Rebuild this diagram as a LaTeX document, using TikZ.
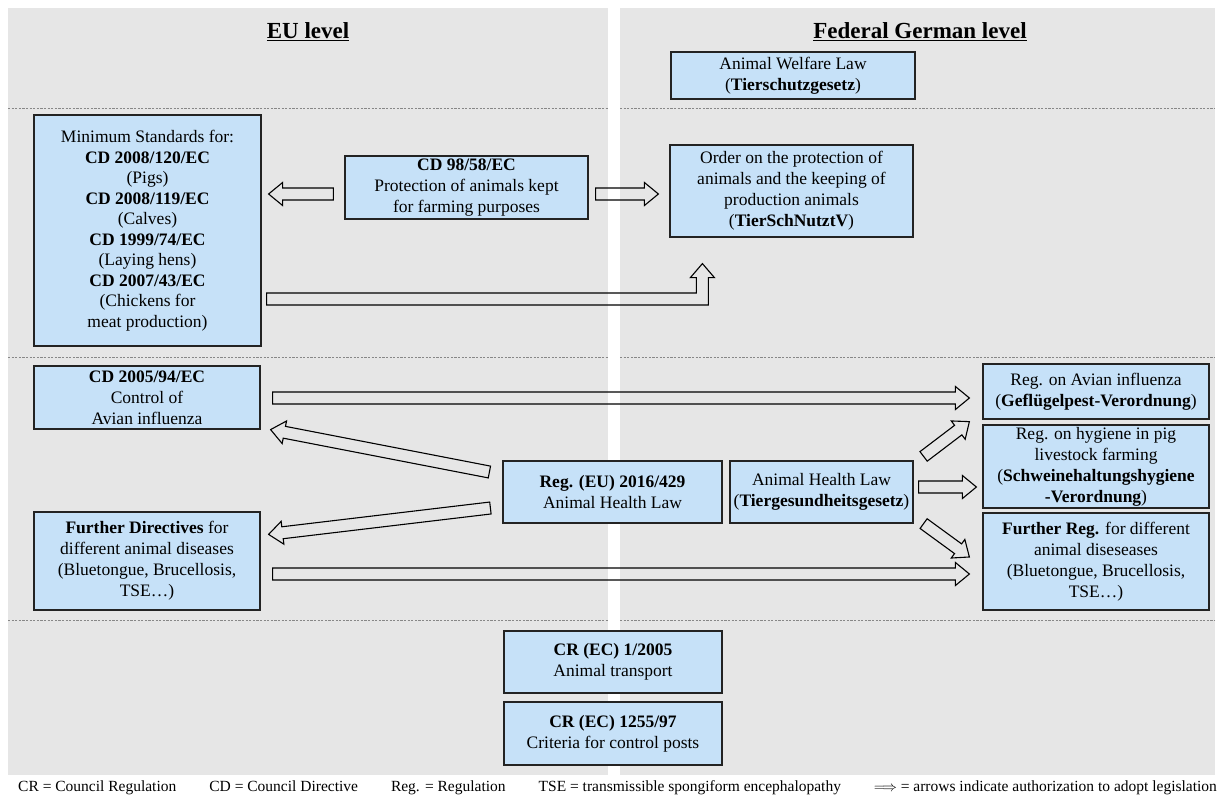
\documentclass[tikz,border=0pt]{standalone}
\usepackage{fontspec}
\setmainfont{Liberation Serif}
\usetikzlibrary{calc}

\definecolor{panelgray}{RGB}{230,230,230}
\definecolor{boxblue}{RGB}{198,225,248}
\definecolor{sepgray}{RGB}{135,135,135}
\definecolor{edgegray}{RGB}{35,35,35}

\tikzset{
  lawbox/.style={draw=edgegray, line width=1.2pt, fill=boxblue, align=center,
    inner sep=2pt, font=\fontsize{17.5}{21}\selectfont},
  panel/.style={fill=panelgray, draw=none},
  sepline/.style={draw=sepgray, line width=0.9pt, dash pattern=on 2.2pt off 1.4pt},
  hollow/.style={draw=black, line width=1.1pt, line join=miter, fill=none},
  heading/.style={font=\fontsize{23}{26}\selectfont\bfseries},
  legend/.style={font=\fontsize{15.5}{18}\selectfont, inner sep=0pt, anchor=base west},
}

% block arrow (hollow outline) from coordinate #1 to coordinate #2
\newcommand\hollowarrow[2]{%
  \path let \p1=(#1), \p2=(#2) in \pgfextra{%
    \pgfmathsetmacro\haang{atan2(\y2-\y1,\x2-\x1)}%
    \pgfmathsetmacro\halen{veclen(\x2-\x1,\y2-\y1)}%
    \pgfmathsetmacro\hab{\halen-14}%
    \xdef\haang{\haang}\xdef\halen{\halen}\xdef\hab{\hab}%
    \xdef\hax{\x1}\xdef\hay{\y1}};
  \begin{scope}[shift={(\hax,\hay)}, rotate=\haang, x=1pt, y=1pt]
    \draw[hollow] (0,-6) -- (\hab,-6) -- (\hab,-11.5) -- (\halen,0)
      -- (\hab,11.5) -- (\hab,6) -- (0,6) -- cycle;
  \end{scope}}

\begin{document}
\begin{tikzpicture}[x=1pt, y=-1pt]
  \useasboundingbox (0,0) rectangle (1220,800);
  \fill[white] (0,0) rectangle (1220,800);

  % two columns
  \fill[panel] (8,8) rectangle (608,775);
  \fill[panel] (620,8) rectangle (1215,775);

  % row separators
  \foreach \yy in {108,357,620} {
    \draw[sepline] (8,\yy) -- (608,\yy);
    \draw[sepline] (620,\yy) -- (1215,\yy);
  }

  % column headings
  \node[heading] (hEU) at (308,32) {\underline{EU level}};
  \node[heading] (hDE) at (920,32) {\underline{Federal German level}};

  % legal acts
  \node[lawbox, minimum width=244, minimum height=47] (aw) at (793,75.5)
    {Animal Welfare Law\\(\textbf{Tierschutzgesetz})};

  \node[lawbox, minimum width=227, minimum height=231,
        font=\fontsize{17.5}{20.5}\selectfont] (minstd) at (147.5,230.5)
    {Minimum Standards for:\\\textbf{CD 2008/120/EC}\\(Pigs)\\\textbf{CD 2008/119/EC}\\(Calves)\\
     \textbf{CD 1999/74/EC}\\(Laying hens)\\\textbf{CD 2007/43/EC}\\(Chickens for\\meat production)};

  \node[lawbox, minimum width=243, minimum height=63] (cd9858) at (466.5,187.5)
    {\textbf{CD 98/58/EC}\\Protection of animals kept\\for farming purposes};

  \node[lawbox, minimum width=243, minimum height=92] (order) at (791.5,191)
    {Order on the protection of\\animals and the keeping of\\production animals\\(\textbf{TierSchNutztV})};

  \node[lawbox, minimum width=226, minimum height=63] (cd2005) at (147,397.5)
    {\textbf{CD 2005/94/EC}\\Control of\\Avian influenza};

  \node[lawbox, minimum width=226, minimum height=98] (furtherdir) at (147,561)
    {\textbf{Further Directives} for\\different animal diseases\\(Bluetongue, Brucellosis,\\TSE…)};

  \node[lawbox, minimum width=219, minimum height=62] (reg2016) at (612.5,492)
    {\textbf{Reg. (EU) 2016/429}\\Animal Health Law};

  \node[lawbox, minimum width=183, minimum height=62] (ahl) at (821.5,492)
    {Animal Health Law\\(\textbf{Tiergesundheitsgesetz})};

  \node[lawbox, minimum width=226, minimum height=55] (avian) at (1096,391.5)
    {Reg. on Avian influenza\\(\textbf{Geflügelpest-Verordnung})};

  \node[lawbox, minimum width=226, minimum height=81] (hygiene) at (1096,466.5)
    {Reg. on hygiene in pig\\livestock farming\\(\textbf{Schweinehaltungshygiene}\\\textbf{-Verordnung})};

  \node[lawbox, minimum width=226, minimum height=97] (furtherreg) at (1096,561.5)
    {\textbf{Further Reg.} for different\\animal diseseases\\(Bluetongue, Brucellosis,\\TSE…)};

  \node[lawbox, minimum width=218, minimum height=62] (cr1) at (613,662)
    {\textbf{CR (EC) 1/2005}\\Animal transport};

  \node[lawbox, minimum width=218, minimum height=63] (cr2) at (613,733.5)
    {\textbf{CR (EC) 1255/97}\\Criteria for control posts};

  % arrow end points
  \coordinate (a1s) at ($(cd9858.west)+(-11,6.5)$);
  \coordinate (a1t) at ($(minstd.east |- a1s)+(7,0)$);
  \coordinate (a2s) at ($(cd9858.east)+(7,6.5)$);
  \coordinate (a2t) at ($(order.west |- a2s)+(-11,0)$);
  \coordinate (a4s) at ($(cd2005.east)+(12,0.5)$);
  \coordinate (a4t) at ($(avian.west |- a4s)+(-13,0)$);
  \coordinate (a5s) at ($(furtherdir.east)+(12,13)$);
  \coordinate (a5t) at ($(furtherreg.west |- a5s)+(-13,0)$);
  \coordinate (a6s) at ($(reg2016.west)+(-13,-20)$);
  \coordinate (a6t) at ($(cd2005.south east)+(10,0)$);
  \coordinate (a7s) at ($(reg2016.west)+(-12,16)$);
  \coordinate (a7t) at ($(furtherdir.north east)+(8,23)$);
  \coordinate (a8s) at ($(ahl.north east)+(10,-4)$);
  \coordinate (a8t) at ($(avian.south west)+(-13,2)$);
  \coordinate (a9s) at ($(ahl.east)+(5,-5)$);
  \coordinate (a9t) at ($(hygiene.west |- a9s)+(-6,0)$);
  \coordinate (a10s) at ($(ahl.south east)+(10,0)$);
  \coordinate (a10t) at ($(furtherreg.west)+(-13,-4.5)$);

  \hollowarrow{a1s}{a1t}
  \hollowarrow{a2s}{a2t}
  \hollowarrow{a4s}{a4t}
  \hollowarrow{a5s}{a5t}
  \hollowarrow{a6s}{a6t}
  \hollowarrow{a7s}{a7t}
  \hollowarrow{a8s}{a8t}
  \hollowarrow{a9s}{a9t}
  \hollowarrow{a10s}{a10t}

  % bent arrow from the minimum standards to the German order
  \coordinate (e1) at ($(minstd.east)+(5,68.5)$);
  \coordinate (e2) at ($(order.south west)+(33,26)$);
  \draw[hollow] ($(e1)+(0,-6)$) -- ($(e2 |- e1)+(-6,-6)$) -- ($(e2)+(-6,14)$)
    -- ($(e2)+(-12,14)$) -- (e2) -- ($(e2)+(12,14)$) -- ($(e2)+(6,14)$)
    -- ($(e2 |- e1)+(6,6)$) -- ($(e1)+(0,6)$) -- cycle;

  % legend
  \node[legend] (leg) at (18,791)
    {CR = Council Regulation\hspace{33pt}CD = Council Directive\hspace{33pt}Reg. = Regulation\hspace{33pt}TSE = transmissible spongiform encephalopathy\hspace{33pt}$\Longrightarrow$ = arrows indicate authorization to adopt legislation};
\end{tikzpicture}
\end{document}
